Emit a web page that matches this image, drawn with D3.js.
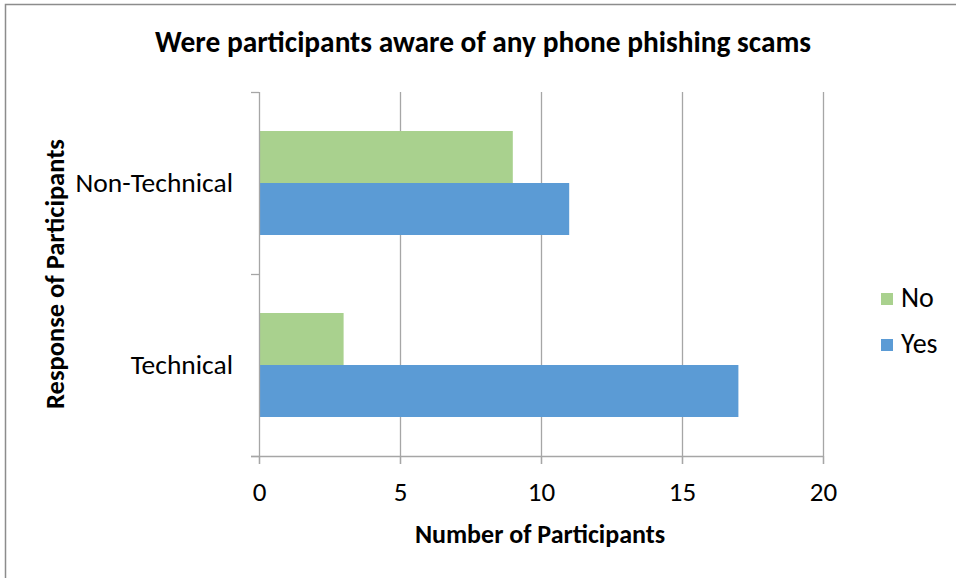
<!DOCTYPE html>
<html>
<head>
<meta charset="utf-8">
<script src="https://cdn.jsdelivr.net/npm/d3@7"></script>
<style>
  html, body { margin: 0; padding: 0; background: #fff; }
  svg { display: block; }
  text { font-family: Carlito, Calibri, "Open Sans", "Liberation Sans", sans-serif; fill: #000; }
</style>
</head>
<body>
<svg id="chart" width="956" height="578"></svg>
<script>
// Survey responses: awareness of phone phishing scams
const categories = ["Non-Technical", "Technical"];
const seriesNames = ["No", "Yes"];
const noValues = [9, 3];
const yesValues = [11, 17];
const xTicks = [0, 5, 10, 15, 20];
const colors = { No: "#A9D18E", Yes: "#5B9BD5" };

const svg = d3.select("#chart");
const W = 956, H = 578;
const plot = { left: 259, right: 823, top: 92, bottom: 456 };
const FONT = "Carlito, Calibri, 'Open Sans', 'Liberation Sans', sans-serif";

// Outer chart frame (only top and left edges fall inside the view)
svg.append("rect")
  .attr("x", 5.5).attr("y", 4.5)
  .attr("width", W + 20).attr("height", H + 20)
  .attr("fill", "#fff").attr("stroke", "#8c8c8c").attr("stroke-width", 1.5);

const x = d3.scaleLinear().domain([0, 20]).range([plot.left, plot.right]);
const y = d3.scaleBand().domain(categories).range([plot.top, plot.bottom])
  .paddingInner(0.75 / 1.75).paddingOuter(0.75 / 3.5);
const ySub = d3.scaleBand().domain(seriesNames).range([0, y.bandwidth()]);

// Vertical gridlines
svg.append("g").selectAll("line")
  .data(xTicks.filter(d => d > 0))
  .join("line")
  .attr("x1", d => x(d) + 0.5).attr("x2", d => x(d) + 0.5)
  .attr("y1", plot.top).attr("y2", plot.bottom + 8)
  .attr("stroke", "#a6a6a6").attr("stroke-width", 1.3);

// Bars
const rows = categories.map((c, i) => ({ cat: c, No: noValues[i], Yes: yesValues[i] }));
const groups = svg.append("g").selectAll("g")
  .data(rows).join("g")
  .attr("transform", d => `translate(0,${y(d.cat)})`);
groups.selectAll("rect")
  .data(d => seriesNames.map(s => ({ s, v: d[s] })))
  .join("rect")
  .attr("x", x(0))
  .attr("y", d => ySub(d.s))
  .attr("width", d => x(d.v) - x(0))
  .attr("height", ySub.bandwidth())
  .attr("fill", d => colors[d.s]);

// Y axis (category axis) with boundary ticks
const yAxis = svg.append("g");
yAxis.append("line")
  .attr("x1", plot.left + 0.5).attr("x2", plot.left + 0.5)
  .attr("y1", plot.top).attr("y2", plot.bottom + 8)
  .attr("stroke", "#a6a6a6").attr("stroke-width", 1.3);
const bounds = [plot.top, (plot.top + plot.bottom) / 2, plot.bottom];
yAxis.selectAll("line.tick")
  .data(bounds).join("line").attr("class", "tick")
  .attr("x1", plot.left - 8).attr("x2", plot.left)
  .attr("y1", d => d + 0.5).attr("y2", d => d + 0.5)
  .attr("stroke", "#a6a6a6").attr("stroke-width", 1.3);
yAxis.selectAll("text")
  .data(categories).join("text")
  .attr("x", plot.left - 26)
  .attr("y", d => y(d) + y.bandwidth() / 2)
  .attr("dy", "0.33em")
  .attr("text-anchor", "end")
  .attr("font-size", 27.5)
  .text(d => d);

// X axis (value axis)
const xAxis = svg.append("g").attr("transform", `translate(0,${plot.bottom})`)
  .call(d3.axisBottom(x).tickValues(xTicks).tickSize(8).tickSizeOuter(0));
xAxis.select(".domain").remove();
xAxis.append("line")
  .attr("x1", plot.left - 8).attr("x2", plot.right)
  .attr("y1", 0.5).attr("y2", 0.5)
  .attr("stroke", "#a6a6a6").attr("stroke-width", 1.3);
xAxis.selectAll(".tick line").attr("stroke", "#a6a6a6").attr("stroke-width", 1.3);
xAxis.selectAll(".tick text")
  .attr("y", 45).attr("dy", 0)
  .attr("font-size", 27).attr("fill", "#000")
  .style("font-family", FONT);

// Title
svg.append("text")
  .attr("x", 483).attr("y", 52)
  .attr("text-anchor", "middle")
  .attr("font-size", 29.4).attr("font-weight", "bold")
  .text("Were participants aware of any phone phishing scams");

// Axis titles
svg.append("text")
  .attr("x", 540).attr("y", 543)
  .attr("text-anchor", "middle")
  .attr("font-size", 26).attr("font-weight", "bold")
  .text("Number of Participants");
svg.append("text")
  .attr("transform", "translate(64,274) rotate(-90)")
  .attr("text-anchor", "middle")
  .attr("font-size", 26.5).attr("font-weight", "bold")
  .text("Response of Participants");

// Legend
const legend = svg.append("g").selectAll("g")
  .data(seriesNames).join("g")
  .attr("transform", (d, i) => `translate(881,${293 + i * 46})`);
legend.append("rect").attr("width", 12).attr("height", 12).attr("fill", d => colors[d]);
legend.append("text")
  .attr("x", 20).attr("y", 6).attr("dy", "0.3em")
  .attr("font-size", 28)
  .text(d => d);
</script>
</body>
</html>
